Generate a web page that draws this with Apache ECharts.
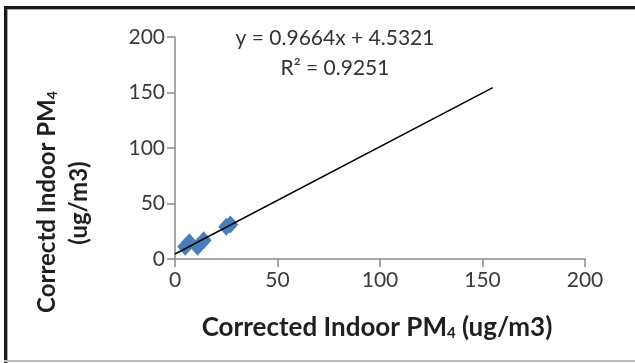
<!DOCTYPE html>
<html>
<head>
<meta charset="utf-8">
<script src="https://cdn.jsdelivr.net/npm/echarts@6/dist/echarts.min.js"></script>
<style>
html,body{margin:0;padding:0;background:#fff;}
#c{width:635px;height:363px;}
</style>
</head>
<body>
<div id="c"></div>
<script>
// Data
var xValues = [5, 7, 11, 14, 25, 27];
var yValues = [11, 15, 11, 17, 29, 31];
var trendSlope = 0.9664;
var trendIntercept = 4.5321;
var trendRange = [0, 155];
var xTicks = [0, 50, 100, 150, 200];
var yTicks = [0, 50, 100, 150, 200];
var equationText = 'y = 0.9664x + 4.5321';
var r2Text = 'R² = 0.9251';

var points = xValues.map(function (x, i) { return [x, yValues[i]]; });
var trendPoints = trendRange.map(function (x) { return [x, trendSlope * x + trendIntercept]; });

var chart = echarts.init(document.getElementById('c'));
var FONT = 'Lato';
var axisColor = '#8a8a8a';

chart.setOption({
  animation: false,
  backgroundColor: '#fff',
  grid: { left: 175, right: 50, top: 37, bottom: 104, containLabel: false },
  xAxis: {
    type: 'value', min: 0, max: 200, interval: 50,
    axisLine: { show: true, onZero: false, lineStyle: { color: axisColor, width: 1.5 } },
    axisTick: { show: true, length: 8, lineStyle: { color: axisColor, width: 1.5 } },
    splitLine: { show: false },
    axisLabel: { fontFamily: FONT, fontSize: 21, color: '#3a3a3a', margin: 11 },
    name: ''
  },
  yAxis: {
    type: 'value', min: 0, max: 200, interval: 50,
    axisLine: { show: true, onZero: false, lineStyle: { color: axisColor, width: 1.5 } },
    axisTick: { show: true, length: 8, lineStyle: { color: axisColor, width: 1.5 } },
    splitLine: { show: false },
    axisLabel: { fontFamily: FONT, fontSize: 21, color: '#3a3a3a', margin: 10 }
  },
  series: [
    {
      type: 'line', data: trendPoints, symbol: 'none', z: 3,
      lineStyle: { color: '#000', width: 1.5 }
    },
    {
      type: 'scatter', data: points, symbol: 'diamond', symbolSize: [16, 18], z: 2,
      itemStyle: { color: '#4a7ebb', opacity: 1 }
    }
  ],
  graphic: [
    { type: 'rect', shape: { x: 4, y: 6, width: 640, height: 3 }, style: { fill: '#1a1a1a' } },
    { type: 'rect', shape: { x: 4, y: 6, width: 3, height: 360 }, style: { fill: '#1a1a1a' } },
    { type: 'rect', shape: { x: 7, y: 9, width: 640, height: 1 }, style: { fill: '#aaaaaa' } },
    { type: 'rect', shape: { x: 7, y: 9, width: 1, height: 360 }, style: { fill: '#aaaaaa' } },
    { type: 'rect', shape: { x: 4, y: 360, width: 640, height: 2 }, style: { fill: '#bbbbbb' } },
    {
      type: 'text', x: 335, y: 38,
      style: { text: equationText, font: '21px ' + FONT, fill: '#333', align: 'center', verticalAlign: 'middle' }
    },
    {
      type: 'text', x: 335, y: 68,
      style: { text: r2Text, font: '21px ' + FONT, fill: '#333', align: 'center', verticalAlign: 'middle' }
    },
    {
      type: 'text', x: 377, y: 328,
      style: {
        text: '{a|Corrected Indoor PM}{s|4}{a| (ug/m3)}',
        align: 'center', verticalAlign: 'middle',
        rich: {
          a: { fontFamily: FONT, fontSize: 26, fontWeight: 'bold', fill: '#1f1f1f', color: '#1f1f1f' },
          s: { fontFamily: FONT, fontSize: 15, fontWeight: 'bold', fill: '#1f1f1f', color: '#1f1f1f', padding: [11, 0, 0, 0] }
        }
      }
    },
    {
      type: 'text', x: 47, y: 202, rotation: Math.PI / 2,
      style: {
        text: '{a|Correctd Indoor PM}{s|4}',
        align: 'center', verticalAlign: 'middle',
        rich: {
          a: { fontFamily: FONT, fontSize: 24, fontWeight: 'bold', fill: '#1f1f1f', color: '#1f1f1f' },
          s: { fontFamily: FONT, fontSize: 14, fontWeight: 'bold', fill: '#1f1f1f', color: '#1f1f1f', padding: [10, 0, 0, 0] }
        }
      }
    },
    {
      type: 'text', x: 79, y: 203, rotation: Math.PI / 2,
      style: { text: '(ug/m3)', font: 'bold 24px ' + FONT, fill: '#1f1f1f', align: 'center', verticalAlign: 'middle' }
    }
  ]
});
</script>
</body>
</html>
